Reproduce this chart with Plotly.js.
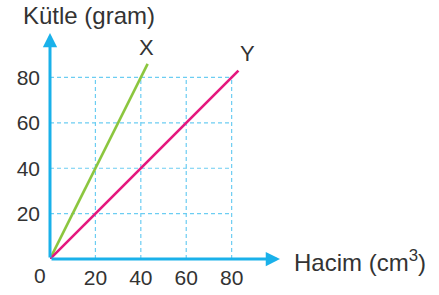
<!DOCTYPE html>
<html>
<head>
<meta charset="utf-8">
<script src="https://cdn.plot.ly/plotly-3.0.1.min.js"></script>
<style>html,body{margin:0;padding:0;background:#fff;}#chart{width:439px;height:295px;}</style>
</head>
<body>
<div id="chart"></div>
<script>
// Data
const ticks = [20, 40, 60, 80];
const tickLabels = ['20', '40', '60', '80'];
const seriesNames = ['X', 'Y'];
const xVolume = [0, 43];   // X: hacim (cm3)
const xMass = [0, 86];     // X: kütle (gram)
const yVolume = [0, 83];   // Y: hacim (cm3)
const yMass = [0, 83];     // Y: kütle (gram)
const gridMax = 80;

const axisColor = '#1ab1ea';
const gridColor = '#6ccdf2';
const textColor = '#333333';
const fontFam = '"Liberation Sans", Arial, sans-serif';

const traces = [];
// grid lines (dashed box 0..80)
ticks.forEach(t => {
  traces.push({x: [t, t], y: [0, gridMax], mode: 'lines', line: {color: gridColor, width: 1.2, dash: '4px,3px'}, hoverinfo: 'skip', showlegend: false});
  traces.push({x: [0, gridMax], y: [t, t], mode: 'lines', line: {color: gridColor, width: 1.2, dash: '4px,3px'}, hoverinfo: 'skip', showlegend: false});
});
traces.push({x: xVolume, y: xMass, name: seriesNames[0], mode: 'lines', line: {color: '#8cc63f', width: 2.6}, cliponaxis: false, showlegend: false});
traces.push({x: yVolume, y: yMass, name: seriesNames[1], mode: 'lines', line: {color: '#e5187e', width: 2.6}, cliponaxis: false, showlegend: false});

const xMax = 101.3, yMax = 99.6;

const layout = {
  width: 439, height: 295,
  margin: {l: 50, r: 159, t: 33, b: 36},
  paper_bgcolor: '#fff', plot_bgcolor: 'rgba(0,0,0,0)',
  showlegend: false,
  font: {family: fontFam, color: textColor},
  xaxis: {range: [0, xMax], tickvals: ticks, ticktext: tickLabels, showgrid: false, zeroline: false, showline: false, ticks: '', tickfont: {size: 21, color: textColor}, ticklabelstandoff: 4, fixedrange: true},
  yaxis: {range: [0, yMax], tickvals: ticks, ticktext: tickLabels, showgrid: false, zeroline: false, showline: false, ticks: '', tickfont: {size: 21, color: textColor}, ticklabelstandoff: 9, fixedrange: true},
  annotations: [
    {x: xMax, y: 0, ax: 0, ay: 0, xref: 'x', yref: 'y', axref: 'x', ayref: 'y', text: '', showarrow: true, arrowhead: 2, arrowsize: 0.95, arrowwidth: 3, arrowcolor: axisColor, standoff: 0},
    {x: 0, y: yMax, ax: 0, ay: 0, xref: 'x', yref: 'y', axref: 'x', ayref: 'y', text: '', showarrow: true, arrowhead: 2, arrowsize: 0.95, arrowwidth: 3, arrowcolor: axisColor, standoff: 0},
    {x: 42.7, y: 93, xref: 'x', yref: 'y', text: seriesNames[0], showarrow: false, font: {size: 22, color: textColor}},
    {x: 87.2, y: 90.7, xref: 'x', yref: 'y', text: seriesNames[1], showarrow: false, font: {size: 22, color: textColor}},
    {x: 21, y: 15, xref: 'paper', yref: 'paper', text: 'Kütle (gram)', showarrow: false, xanchor: 'left', yanchor: 'middle', font: {size: 24, color: textColor}},
    {x: 292, y: 261, text: 'Hacim (cm<sup>3</sup>)', showarrow: false, xanchor: 'left', yanchor: 'middle', font: {size: 24, color: textColor}},
    {x: 40, y: 275, text: '0', showarrow: false, xanchor: 'center', yanchor: 'middle', font: {size: 21, color: textColor}}
  ]
};

// convert pixel-placed annotations (title labels, origin) to paper coords
const pw = 439 - 50 - 159, ph = 295 - 33 - 36;
layout.annotations.forEach((a, i) => {
  if (i >= 4) {
    a.xref = 'paper'; a.yref = 'paper';
    a.x = (a.x - 50) / pw;
    a.y = 1 - (a.y - 33) / ph;
  }
});

Plotly.newPlot('chart', traces, layout, {staticPlot: true, displayModeBar: false});
</script>
</body>
</html>
